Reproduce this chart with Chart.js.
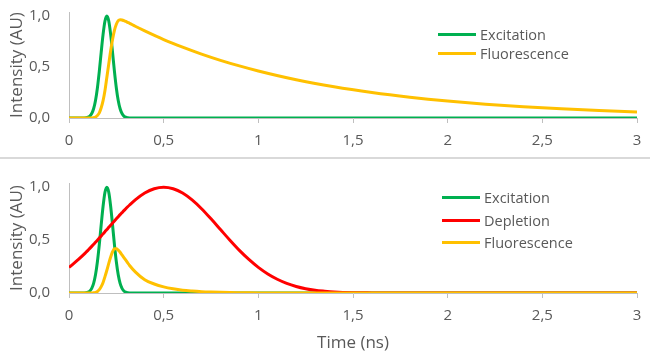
<!DOCTYPE html>
<html>
<head>
<meta charset="utf-8">
<script src="https://cdn.jsdelivr.net/npm/chart.js@4/dist/chart.umd.min.js"></script>
<style>
  html, body { margin: 0; padding: 0; background: #fff; width: 650px; height: 359px; overflow: hidden; }
  #wrap { position: relative; width: 650px; height: 359px; }
  #c1 { position: absolute; left: 0; top: 0; }
  #c2 { position: absolute; left: 0; top: 159px; }
  #sep { position: absolute; left: 0; top: 157px; width: 650px; height: 2px; background: #d9d9d9; }
  .leg { position: absolute; height: 20px; display: flex; align-items: center;
         font-family: "Open Sans", sans-serif; font-size: 14.5px; color: #595959; white-space: nowrap; }
  .leg .ln { display: inline-block; width: 38px; height: 3px; margin-right: 4px; }
</style>
</head>
<body>
<div id="wrap">
  <canvas id="c1" width="650" height="157"></canvas>
  <div id="sep"></div>
  <canvas id="c2" width="650" height="200"></canvas>
</div>
<script>
// ---------- data ----------
const xTickValues = [0, 0.5, 1, 1.5, 2, 2.5, 3];
const yTickValues = [0, 0.5, 1];

// Top panel
const timeTop = [0, 0.05, 0.08, 0.09, 0.10, 0.11, 0.12, 0.13, 0.14, 0.15, 0.16, 0.17, 0.18, 0.19, 0.20,
  0.21, 0.22, 0.23, 0.24, 0.25, 0.26, 0.27, 0.28, 0.29, 0.30, 0.31, 0.32, 0.35, 0.40, 0.50, 0.60, 0.70,
  0.80, 0.90, 1.00, 1.20, 1.40, 1.60, 1.80, 2.00, 2.20, 2.40, 2.60, 2.80, 3.00];
const excitationTop = [0, 0, 0.0009, 0.0027, 0.0076, 0.019, 0.044, 0.091, 0.172, 0.295, 0.458, 0.644, 0.82, 0.952, 1,
  0.952, 0.82, 0.644, 0.458, 0.295, 0.172, 0.091, 0.044, 0.019, 0.0076, 0.0027, 0.0009, 0, 0, 0, 0, 0,
  0, 0, 0, 0, 0, 0, 0, 0, 0, 0, 0, 0, 0];
const fluorescenceTop = [0, 0, 0, 0, 0, 0, 0, 0.004, 0.01, 0.025, 0.05, 0.10, 0.17, 0.27, 0.40,
  0.53, 0.66, 0.77, 0.86, 0.92, 0.955, 0.965, 0.962, 0.955, 0.947, 0.938, 0.929, 0.90, 0.855, 0.77, 0.695, 0.627,
  0.566, 0.511, 0.461, 0.375, 0.306, 0.25, 0.204, 0.166, 0.135, 0.11, 0.09, 0.073, 0.06];

// Bottom panel
const timeBottom = [0, 0.05, 0.08, 0.09, 0.10, 0.11, 0.12, 0.13, 0.14, 0.15, 0.16, 0.17, 0.18, 0.19, 0.20,
  0.21, 0.22, 0.23, 0.24, 0.25, 0.26, 0.27, 0.28, 0.29, 0.30, 0.31, 0.32, 0.35, 0.40, 0.45, 0.50, 0.55,
  0.60, 0.65, 0.70, 0.75, 0.80, 0.85, 0.90, 0.95, 1.00, 1.05, 1.10, 1.15, 1.20, 1.25, 1.30, 1.35, 1.40,
  1.50, 1.60, 1.70, 1.80, 2.00, 2.50, 3.00];
const excitationBottom = [0, 0, 0.0009, 0.0027, 0.0076, 0.019, 0.044, 0.091, 0.172, 0.295, 0.458, 0.644, 0.82, 0.952, 1,
  0.952, 0.82, 0.644, 0.458, 0.295, 0.172, 0.091, 0.044, 0.019, 0.0076, 0.0027, 0.0009, 0, 0, 0, 0, 0,
  0, 0, 0, 0, 0, 0, 0, 0, 0, 0, 0, 0, 0, 0, 0, 0, 0,
  0, 0, 0, 0, 0, 0, 0];
const depletionBottom = [0.242, 0.317, 0.367, 0.385, 0.403, 0.422, 0.441, 0.46, 0.479, 0.499, 0.519, 0.539, 0.559, 0.58, 0.60,
  0.621, 0.641, 0.661, 0.681, 0.701, 0.721, 0.741, 0.76, 0.779, 0.797, 0.815, 0.832, 0.88, 0.945, 0.986, 1, 0.986,
  0.945, 0.88, 0.797, 0.701, 0.60, 0.499, 0.403, 0.317, 0.242, 0.18, 0.13, 0.091, 0.062, 0.041, 0.026, 0.017, 0.01,
  0.003, 0.001, 0, 0, 0, 0, 0];
const fluorescenceBottom = [0, 0, 0, 0, 0, 0, 0, 0.002, 0.006, 0.015, 0.032, 0.06, 0.10, 0.155, 0.215,
  0.28, 0.34, 0.39, 0.418, 0.418, 0.405, 0.385, 0.36, 0.335, 0.31, 0.285, 0.26, 0.20, 0.125, 0.085, 0.058, 0.04,
  0.027, 0.019, 0.013, 0.009, 0.006, 0.004, 0.003, 0.002, 0.001, 0, 0, 0, 0, 0, 0, 0, 0,
  0, 0, 0, 0, 0, 0, 0];

const labelsTop = ["Excitation", "Fluorescence"];
const labelsBottom = ["Excitation", "Depletion", "Fluorescence"];
// ------------------------------------------------------------

const GREEN = "#00B050", RED = "#FF0000", ORANGE = "#FFC000";
const TEXT = "#595959", AXIS = "#bfbfbf";

function pts(xs, ys) { return xs.map((x, i) => ({ x: x, y: ys[i] })); }
function ds(label, xs, ys, color, order) {
  return { label, data: pts(xs, ys), borderColor: color, backgroundColor: color, borderWidth: 3,
           pointRadius: 0, fill: false, cubicInterpolationMode: "monotone", order };
}

function makeOptions(xHeight, padTop, showXTitle) {
  return {
    responsive: false, animation: false, devicePixelRatio: 1,
    layout: { padding: { top: padTop, right: 13, left: 0, bottom: 0 } },
    plugins: { legend: { display: false }, tooltip: { enabled: false } },
    scales: {
      x: {
        type: "linear", min: 0, max: 3,
        afterBuildTicks: s => { s.ticks = xTickValues.map(v => ({ value: v })); },
        afterFit: s => { s.height = xHeight; s.paddingLeft = 0; s.paddingRight = 0; },
        grid: { display: true, drawOnChartArea: false, drawTicks: true, tickLength: 5, color: AXIS, lineWidth: 1 },
        border: { display: true, color: AXIS, width: 1 },
        ticks: { color: TEXT, padding: 9, font: { family: "Open Sans", size: 15 },
                 maxRotation: 0, autoSkip: false,
                 callback: v => String(v).replace(".", ",") },
        title: { display: showXTitle, text: "Time (ns)", color: TEXT,
                 font: { family: "Open Sans", size: 17 }, padding: { top: 0, bottom: 6 } }
      },
      y: {
        type: "linear", min: 0, max: 1.04,
        afterBuildTicks: s => { s.ticks = yTickValues.map(v => ({ value: v })); },
        afterFit: s => { s.width = 69; s.paddingTop = 0; s.paddingBottom = 0; },
        grid: { display: false, drawTicks: false },
        border: { display: true, color: AXIS, width: 1 },
        ticks: { color: TEXT, padding: 19, font: { family: "Open Sans", size: 15 },
                 callback: v => v.toFixed(1).replace(".", ",") },
        title: { display: true, text: "Intensity (AU)", color: TEXT,
                 font: { family: "Open Sans", size: 17 }, padding: { top: 7, bottom: 0 } }
      }
    }
  };
}

new Chart(document.getElementById("c1"), {
  type: "line",
  data: { datasets: [
    ds(labelsTop[0], timeTop, excitationTop, GREEN, 2),
    ds(labelsTop[1], timeTop, fluorescenceTop, ORANGE, 0)
  ] },
  options: makeOptions(39, 12, false)
});

new Chart(document.getElementById("c2"), {
  type: "line",
  data: { datasets: [
    ds(labelsBottom[0], timeBottom, excitationBottom, GREEN, 2),
    ds(labelsBottom[1], timeBottom, depletionBottom, RED, 1),
    ds(labelsBottom[2], timeBottom, fluorescenceBottom, ORANGE, 0)
  ] },
  options: makeOptions(66, 24, true)
});

// HTML legends
function legend(labels, colors, x, ys) {
  const wrap = document.getElementById("wrap");
  labels.forEach((lab, i) => {
    const d = document.createElement("div");
    d.className = "leg";
    d.style.left = x + "px";
    d.style.top = (ys[i] - 10) + "px";
    const l = document.createElement("span");
    l.className = "ln"; l.style.background = colors[i];
    const t = document.createElement("span");
    t.textContent = lab;
    d.appendChild(l); d.appendChild(t);
    wrap.appendChild(d);
  });
}
legend(labelsTop, [GREEN, ORANGE], 438, [34.5, 53]);
legend(labelsBottom, [GREEN, RED, ORANGE], 442, [197.5, 220, 242.5]);
</script>
</body>
</html>
